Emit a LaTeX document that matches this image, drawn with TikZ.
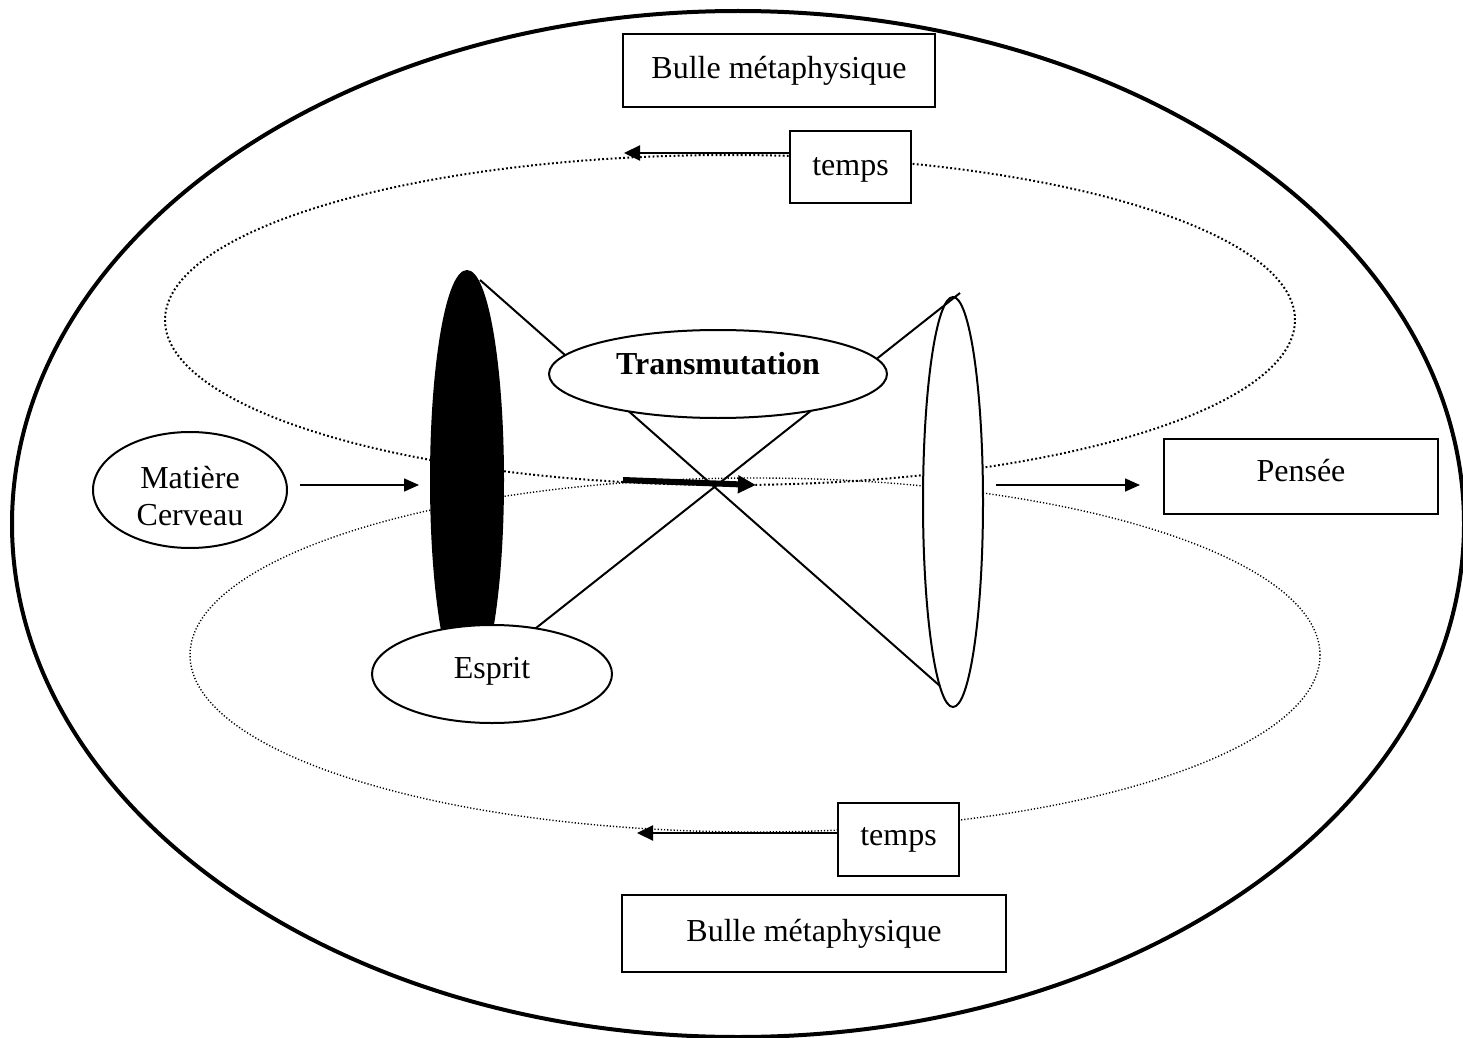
\documentclass[tikz,border=0pt]{standalone}
\usepackage{fontspec}
\setmainfont{Liberation Serif}
\usetikzlibrary{shapes.geometric,arrows.meta}
\begin{document}
\begin{tikzpicture}[x=0.5pt,y=-0.5pt,
  every node/.style={font=\fontsize{16pt}{18.5pt}\selectfont, inner sep=0pt},
  boxnode/.style={draw, line width=1pt, fill=white, rectangle},
  ellnode/.style={draw, line width=1pt, fill=white, ellipse},
  lens/.style={draw, line width=1pt, ellipse},
  crossline/.style={line width=1pt},
  arr/.style={line width=0.8pt, -{Triangle[length=7.5pt,width=6.5pt]}},
  tarr/.style={line width=1.1pt, -{Triangle[length=8pt,width=7.5pt]}},
  bigarr/.style={line width=3pt, -{Triangle[length=9pt,width=8.5pt]}},
  dotA/.style={draw, ellipse, line width=1pt, dash pattern=on 0.9pt off 1.2pt},
  dotB/.style={draw, ellipse, line width=0.7pt, dash pattern=on 0.6pt off 1pt},
]
\useasboundingbox (0,0) rectangle (1463,1038);
% outer bubble
\node[draw, ellipse, line width=2pt, minimum width=726pt, minimum height=513pt] (big) at (738,524) {};
% dotted orbits
\node[dotA, minimum width=565pt, minimum height=165pt] (orbA) at (730,320) {};
\node[dotB, minimum width=565pt, minimum height=177pt] (orbB) at (755,655) {};
% lenses
\node[lens, fill=black, minimum width=36pt, minimum height=209pt] (blk) at (467,480) {};
\node[lens, fill=white, minimum width=30pt, minimum height=205pt] (wht) at (953,502) {};
% crossing lines
\coordinate (c1) at (480,280);
\coordinate (c2) at (940,686);
\coordinate (c3) at (960,293);
\coordinate (c4) at (512,647);
\draw[crossline] (c1) -- (c2);
\draw[crossline] (c3) -- (c4);
% central ellipses
\node[ellnode, minimum width=169pt, minimum height=44pt] (trans) at (718,374) {};
\node (transT) at (718,364) {\textbf{Transmutation}};
\node[ellnode, minimum width=120pt, minimum height=49pt] (esp) at (492,674) {};
\node (espT) at (492,671) {Esprit};
% thick arrow
\coordinate (ta1) at (623,480);
\coordinate (ta2) at (756,485);
\draw[bigarr] (ta1) -- (ta2);
% left input
\node[ellnode, minimum width=97pt, minimum height=58pt] (mat) at (190,490) {};
\node[align=center] (matT) at (190,496) {Matière\\Cerveau};
\draw[arr, shorten <=6pt, shorten >=5.5pt] (mat.east |- 0,485) -- (blk.west |- 0,485);
% output
\node[boxnode, minimum width=137pt, minimum height=37.5pt] (pen) at (1301,476.5) {};
\node (penT) at (1301,471) {Pensée};
\draw[arr, shorten <=6pt, shorten >=11.5pt] (wht.east |- 0,485) -- (pen.west |- 0,485);
% bubbles labels
\node[boxnode, minimum width=156pt, minimum height=36.5pt] (bul1) at (779,70.5) {Bulle métaphysique};
\node[boxnode, minimum width=192pt, minimum height=38.5pt] (bul2) at (814,933.5) {Bulle métaphysique};
% time boxes
\node[boxnode, minimum width=60.5pt, minimum height=36pt] (tp1) at (850.5,167) {};
\node (tp1T) at (850.5,170) {temps};
\coordinate (tp1end) at (624,153);
\draw[tarr] (tp1end -| tp1.west) -- (tp1end);
\node[boxnode, minimum width=60.5pt, minimum height=36.5pt] (tp2) at (898.5,839.5) {temps};
\coordinate (tp2end) at (637,833);
\draw[tarr] (tp2end -| tp2.west) -- (tp2end);
\end{tikzpicture}
\end{document}
